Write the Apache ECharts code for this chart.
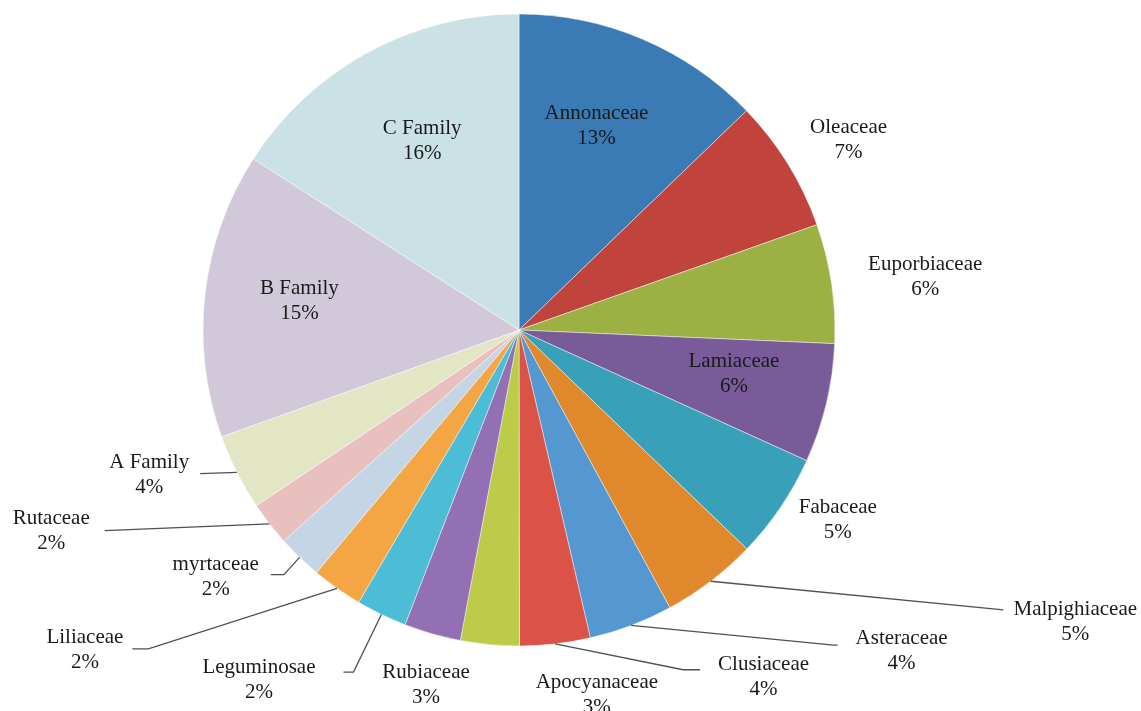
<!DOCTYPE html>
<html>
<head>
<meta charset="utf-8">
<script src="https://cdn.jsdelivr.net/npm/echarts@6/dist/echarts.min.js"></script>
<style>
html,body{margin:0;padding:0;background:#fff;}
#chart{width:1141px;height:711px;}
</style>
</head>
<body>
<div id="chart"></div>
<script>
// ---- data ----
const categories = ['Annonaceae','Oleaceae','Euporbiaceae','Lamiaceae','Fabaceae','Malpighiaceae','Asteraceae','Clusiaceae','Apocyanaceae','Rubiaceae','Leguminosae','Liliaceae','myrtaceae','Rutaceae','A Family','B Family','C Family'];
const values = [12.8, 6.8, 6.1, 6.1, 5.4, 4.9, 4.3, 3.6, 3.0, 2.9, 2.6, 2.6, 2.3, 2.25, 3.9, 14.6, 15.9];
const pctLabels = ['13%','7%','6%','6%','5%','5%','4%','4%','3%','3%','2%','2%','2%','2%','4%','15%','16%'];

// ---- styles ----
const colors = ['#3A7AB5','#C0443C','#9CB043','#7A5B9A','#38A0B8','#E0892C','#5597D1','#DB5346','#BDCB4B','#9370B3','#4DBCD6','#F4A544','#C4D5E6','#E8C0BD','#E2E6C4','#D1C9DA','#CAE1E6'];
const insidePadding = {
  'Annonaceae': [0, 18, 2, 0],
  'Lamiaceae':  [0, 0, 14, 0],
  'B Family':   [0, 0, 8, 0],
  'C Family':   [10, 0, 0, 18]
};
const outsidePlacement = {
  'Oleaceae':     {len: 45, len2: -21, dist: 5,  line: false, pad: 0},
  'Euporbiaceae': {len: 43, len2: -11, dist: 5,  line: false, pad: 0},
  'Fabaceae':     {len: 22, len2: -5,  dist: 5,  line: false, pad: 0},
  'Malpighiaceae':{len: 36, len2: 271, dist: 10, line: true,  pad: 25, tail: 0},
  'Asteraceae':   {len: 21, len2: 199, dist: 18, line: true,  pad: 11, tail: 4},
  'Clusiaceae':   {len: 26, len2: 142, dist: 18, line: true,  pad: 15, tail: 17},
  'Apocyanaceae': {len: 51, len2: -178,dist: 5,  line: false, pad: 0},
  'Rubiaceae':    {len: 53, len2: -57, dist: 5,  line: false, pad: 0},
  'Leguminosae':  {len: 64, len2: 10,  dist: 28, line: true,  pad: 15, tail: 10},
  'Liliaceae':    {len: 74, len2: 162, dist: 9,  line: true,  pad: 3,  tail: 16},
  'myrtaceae':    {len: 24, len2: 12,  dist: 12, line: true,  pad: 5,  tail: 13},
  'Rutaceae':     {len: 11, len2: 156, dist: 15, line: true,  pad: 0,  tail: 0},
  'A Family':     {len: 3,  len2: 34,  dist: 11, line: true,  pad: 3,  tail: 0}
};
const FONT = "'Liberation Serif','Times New Roman',serif";
const textStyle = {fontFamily: FONT, fontSize: 21, lineHeight: 25, color: '#1a1a1a', align: 'center'};

const pieData = categories.map((c, i) => ({
  name: c, value: values[i],
  itemStyle: {color: colors[i]}
}));

const labelData = categories.map((c, i) => {
  const item = {name: c, value: values[i]};
  if (insidePadding[c]) {
    item.label = {show: true, position: 'inside', padding: insidePadding[c]};
    item.labelLine = {show: false};
  } else {
    const p = outsidePlacement[c];
    item.label = {show: true, position: 'outside', distanceToLabelLine: p.dist, padding: [p.pad, 0, 0, 0]};
    item.labelLine = {show: p.line, length: p.len, length2: p.len2};
  }
  return item;
});

// Excel-style leader lines: a slanted segment from the slice edge, then a short horizontal tail
function leaderLayout(params) {
  const pts = params.labelLinePoints;
  const p = outsidePlacement[categories[params.dataIndex]];
  if (!pts || !p || !p.line || params.seriesIndex !== 1) return {};
  const a = pts[0], end = pts[2];
  const sign = end[0] < a[0] ? -1 : 1;
  const mid = [end[0] - sign * p.tail, end[1]];
  return {labelLinePoints: [a, mid, end]};
}

const chart = echarts.init(document.getElementById('chart'), null, {renderer: 'canvas'});
chart.setOption({
  backgroundColor: '#ffffff',
  animation: false,
  series: [
    {
      type: 'pie',
      center: [519, 330],
      radius: 316,
      startAngle: 90,
      clockwise: true,
      silent: true,
      label: {show: false},
      labelLine: {show: false},
      itemStyle: {borderColor: 'rgba(255,255,255,0.55)', borderWidth: 0.8},
      data: pieData
    },
    {
      type: 'pie',
      center: [519, 330],
      radius: [120, 316],
      startAngle: 90,
      clockwise: true,
      silent: true,
      z: 5,
      avoidLabelOverlap: false,
      itemStyle: {color: 'rgba(0,0,0,0)', borderWidth: 0},
      label: {
        show: true,
        formatter: p => '{n|' + p.name + '}\n{p|' + pctLabels[p.dataIndex] + '}',
        rich: {n: textStyle, p: textStyle}
      },
      labelLine: {
        lineStyle: {color: '#505050', width: 1.3},
        minTurnAngle: 0,
        maxSurfaceAngle: 180
      },
      labelLayout: leaderLayout,
      data: labelData
    }
  ]
});
</script>
</body>
</html>
